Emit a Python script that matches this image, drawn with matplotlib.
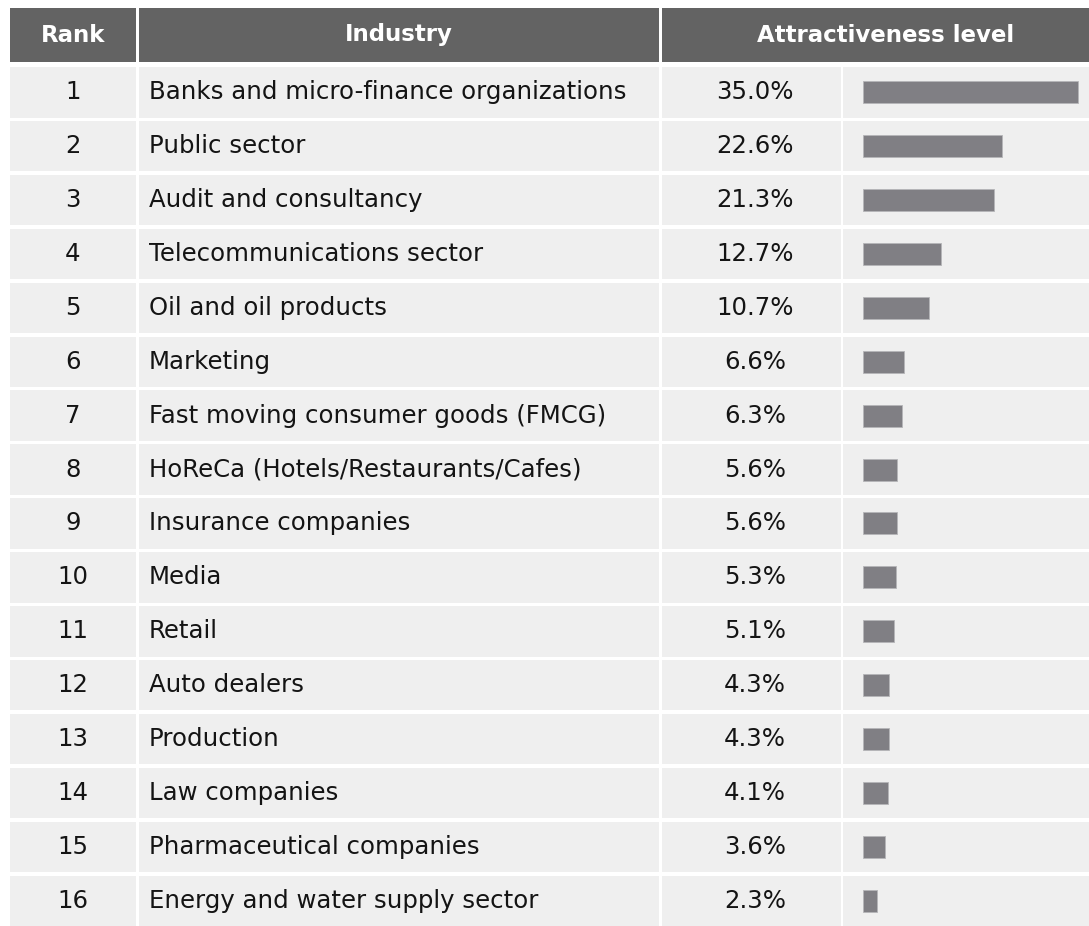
import matplotlib
matplotlib.use("Agg")
import matplotlib.pyplot as plt
from matplotlib.patches import Rectangle

ranks = list(range(1, 17))
industries = [
    "Banks and micro-finance organizations",
    "Public sector",
    "Audit and consultancy",
    "Telecommunications sector",
    "Oil and oil products",
    "Marketing",
    "Fast moving consumer goods (FMCG)",
    "HoReCa (Hotels/Restaurants/Cafes)",
    "Insurance companies",
    "Media",
    "Retail",
    "Auto dealers",
    "Production",
    "Law companies",
    "Pharmaceutical companies",
    "Energy and water supply sector",
]
levels = [35.0, 22.6, 21.3, 12.7, 10.7, 6.6, 6.3, 5.6, 5.6, 5.3, 5.1, 4.3, 4.3, 4.1, 3.6, 2.3]
headers = ["Rank", "Industry", "Attractiveness level"]

W, H = 1089, 926
HEADER_BG = "#636363"
CELL_BG = "#efefef"
BAR_COLOR = "#807f84"
TEXT = "#141414"
FS_HEAD = 16.5
FS_BODY = 17.6

# column edges in pixels (left, right)
cols = [(10, 136), (139, 659), (662, 841), (843, 1120)]
header_cols = [(10, 136), (139, 659), (662, 1110)]
row_top0, row_pitch, row_h = 67, 53.9, 50.5

fig = plt.figure(figsize=(W / 100, H / 100), dpi=100)
fig.patch.set_facecolor("white")
ax = fig.add_axes([0, 0, 1, 1])
ax.set_xlim(0, W)
ax.set_ylim(H, 0)
ax.axis("off")

# header row
for (x0, x1), label in zip(header_cols, headers):
    ax.add_patch(Rectangle((x0, 8), x1 - x0, 54, facecolor=HEADER_BG, edgecolor="none"))
    ax.text((x0 + x1) / 2, 35, label, ha="center", va="center", color="white",
            fontsize=FS_HEAD, fontweight="bold")

# body cells and text
centers = []
for i, (rank, name, val) in enumerate(zip(ranks, industries, levels)):
    top = row_top0 + i * row_pitch
    cy = top + row_h / 2
    centers.append(cy)
    for x0, x1 in cols:
        ax.add_patch(Rectangle((x0, top), x1 - x0, row_h, facecolor=CELL_BG, edgecolor="none"))
    ax.text(73, cy, str(rank), ha="center", va="center", color=TEXT, fontsize=FS_BODY)
    ax.text(149, cy, name, ha="left", va="center", color=TEXT, fontsize=FS_BODY)
    ax.text(755, cy, f"{val:.1f}%", ha="center", va="center", color=TEXT, fontsize=FS_BODY)

# bars live in their own axes laid over the last column
bar_x0 = 863
px_per_pct = 215 / 35.0
bax = fig.add_axes([bar_x0 / W, 0, (W - bar_x0) / W, 1])
bax.set_xlim(0, (W - bar_x0) / px_per_pct)
bax.set_ylim(H, 0)
bax.axis("off")
bax.patch.set_alpha(0)
bax.barh(centers, levels, height=22, left=0, color=BAR_COLOR,
         edgecolor="#b5b5b8", linewidth=0.6)

fig.savefig("out.png", dpi=100, facecolor="white")
